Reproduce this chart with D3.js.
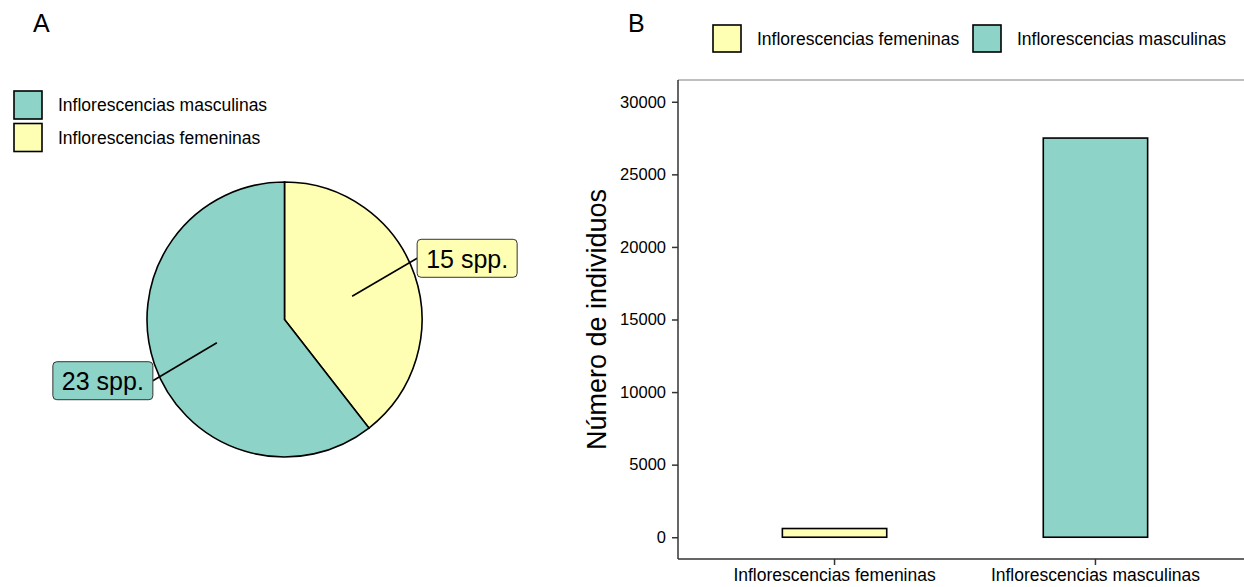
<!DOCTYPE html>
<html>
<head>
<meta charset="utf-8">
<script src="https://cdn.jsdelivr.net/npm/d3@7"></script>
<style>
  body { margin: 0; background: #fff; }
  text { font-family: "Liberation Sans", Arial, sans-serif; fill: #000; }
</style>
</head>
<body>
<script>
// pie: species per inflorescence type
var pieCategories = ["Inflorescencias femeninas", "Inflorescencias masculinas"];
var pieValues = [15, 23];
var pieLabels = ["15 spp.", "23 spp."];

// bars: number of individuals
var barCategories = ["Inflorescencias femeninas", "Inflorescencias masculinas"];
var barValues = [600, 27500];
var yTicks = [0, 5000, 10000, 15000, 20000, 25000, 30000];

var colors = { "Inflorescencias femeninas": "#FFFFB3", "Inflorescencias masculinas": "#8DD3C7" };

var svg = d3.select("body").append("svg")
    .attr("width", 1244)
    .attr("height", 587);

// ---------- panel A ----------
svg.append("text").attr("x", 33).attr("y", 32).style("font-size", "25px").text("A");

var legendA = ["Inflorescencias masculinas", "Inflorescencias femeninas"];
var legA = svg.append("g").attr("transform", "translate(14,91)");
legA.selectAll("rect").data(legendA).enter().append("rect")
    .attr("x", 0).attr("y", function(d, i) { return i * 32.5; })
    .attr("width", 28).attr("height", 28)
    .attr("fill", function(d) { return colors[d]; })
    .attr("stroke", "#000").attr("stroke-width", 1.6);
legA.selectAll("text").data(legendA).enter().append("text")
    .attr("x", 44).attr("y", function(d, i) { return i * 32.5 + 14; })
    .attr("dy", "0.35em")
    .style("font-size", "17.5px")
    .text(function(d) { return d; });

var cx = 284.5, cy = 319.5, r = 137.5;
var pie = d3.pie().sort(null).value(function(d) { return d; });
var arcs = pie(pieValues);
var arc = d3.arc().innerRadius(0).outerRadius(r);
var anchorArc = d3.arc().innerRadius(r * 0.52).outerRadius(r * 0.52);

var gPie = svg.append("g").attr("transform", "translate(" + cx + "," + cy + ")");
gPie.selectAll("path").data(arcs).enter().append("path")
    .attr("d", arc)
    .attr("fill", function(d, i) { return colors[pieCategories[i]]; })
    .attr("stroke", "#000").attr("stroke-width", 1.6);

// label boxes (offset from anchor, repel-like)
var labelOffsets = [[65, -38], [-64, 38]];
arcs.forEach(function(a, i) {
    var p = anchorArc.centroid(a);
    var off = labelOffsets[i];
    var ex = p[0] + off[0], ey = p[1] + off[1];
    gPie.append("line")
        .attr("x1", p[0]).attr("y1", p[1]).attr("x2", ex).attr("y2", ey)
        .attr("stroke", "#000").attr("stroke-width", 1.6);
    var g = gPie.append("g");
    var t = g.append("text").style("font-size", "25px").attr("dy", "0.35em").text(pieLabels[i]);
    var w = t.node().getComputedTextLength();
    var pad = 9, h = 38;
    var bx = off[0] > 0 ? ex : ex - w - 2 * pad;
    g.insert("rect", "text")
        .attr("x", bx).attr("y", ey - h / 2)
        .attr("width", w + 2 * pad).attr("height", h)
        .attr("rx", 4).attr("ry", 4)
        .attr("fill", colors[pieCategories[i]])
        .attr("stroke", "#333").attr("stroke-width", 1);
    t.attr("x", bx + pad).attr("y", ey + 1);
});

// ---------- panel B ----------
svg.append("text").attr("x", 628).attr("y", 32).style("font-size", "25px").text("B");

var legB = svg.append("g").attr("transform", "translate(713,25)");
var legX = [0, 260];
legB.selectAll("rect").data(barCategories).enter().append("rect")
    .attr("x", function(d, i) { return legX[i]; }).attr("y", 0)
    .attr("width", 28).attr("height", 27)
    .attr("fill", function(d) { return colors[d]; })
    .attr("stroke", "#000").attr("stroke-width", 1.6);
legB.selectAll("text").data(barCategories).enter().append("text")
    .attr("x", function(d, i) { return legX[i] + 44; }).attr("y", 13.5)
    .attr("dy", "0.35em")
    .style("font-size", "17.5px")
    .text(function(d) { return d; });

var plotLeft = 678, plotRight = 1252, plotTop = 80, plotBottom = 559;
var y = d3.scaleLinear().domain([-1500, 31500]).range([plotBottom, plotTop]);
var x = d3.scaleBand().domain(barCategories).range([plotLeft, plotRight])
    .paddingInner(0.6).paddingOuter(0.4);

// top border (light)
svg.append("line").attr("x1", plotLeft).attr("x2", 1244).attr("y1", plotTop).attr("y2", plotTop)
    .attr("stroke", "#aaa").attr("stroke-width", 1.5);

svg.selectAll(".bar").data(barValues).enter().append("rect")
    .attr("class", "bar")
    .attr("x", function(d, i) { return x(barCategories[i]); })
    .attr("width", x.bandwidth())
    .attr("y", function(d) { return y(d); })
    .attr("height", function(d) { return y(0) - y(d); })
    .attr("fill", function(d, i) { return colors[barCategories[i]]; })
    .attr("stroke", "#000").attr("stroke-width", 1.6);

var yAxis = svg.append("g").attr("transform", "translate(" + plotLeft + ",0)")
    .call(d3.axisLeft(y).tickValues(yTicks).tickSize(6).tickPadding(6).tickFormat(d3.format("d")));
var xAxis = svg.append("g").attr("transform", "translate(0," + plotBottom + ")")
    .call(d3.axisBottom(x).tickSize(6).tickPadding(4));
[yAxis, xAxis].forEach(function(a) {
    a.select(".domain").attr("stroke", "#333").attr("stroke-width", 1.5);
    a.selectAll(".tick line").attr("stroke", "#333").attr("stroke-width", 1.5);
    a.selectAll("text").style("font-family", "Liberation Sans, Arial, sans-serif").attr("fill", "#000");
});
yAxis.select(".domain").attr("d", "M0," + plotBottom + "V" + plotTop);
xAxis.select(".domain").attr("d", "M" + plotLeft + ",0H" + plotRight);
yAxis.selectAll("text").style("font-size", "16.5px");
xAxis.selectAll("text").style("font-size", "17.5px");

svg.append("text")
    .attr("transform", "translate(606," + ((plotTop + plotBottom) / 2) + ") rotate(-90)")
    .attr("text-anchor", "middle")
    .style("font-size", "27px")
    .text("Número de individuos");
</script>
</body>
</html>
